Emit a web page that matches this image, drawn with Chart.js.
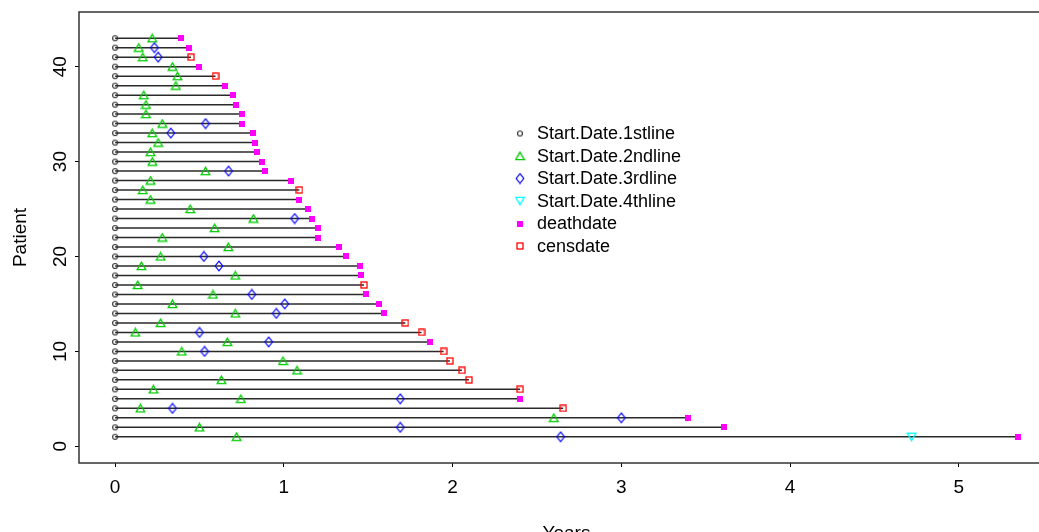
<!DOCTYPE html>
<html>
<head>
<meta charset="utf-8">
<script src="https://cdn.jsdelivr.net/npm/chart.js@4.4.1/dist/chart.umd.min.js"></script>
<style>
  html, body { margin: 0; padding: 0; background: #fff; overflow: hidden; }
  #wrap { width: 1060px; height: 532px; }
</style>
</head>
<body>
<div id="wrap"><canvas id="swim" width="1060" height="532"></canvas></div>
<script>
// patient 1..43 (index 0 = patient 1)
const patients = Array.from({ length: 43 }, (_, i) => i + 1);
const endTime = [5.35, 3.607, 3.394, 2.655, 2.40, 2.40, 2.097, 2.055, 1.984, 1.947,
                 1.865, 1.816, 1.72, 1.594, 1.565, 1.484, 1.475, 1.456, 1.45, 1.37,
                 1.325, 1.202, 1.202, 1.167, 1.143, 1.09, 1.092, 1.045, 0.886, 0.87,
                 0.838, 0.827, 0.82, 0.75, 0.75, 0.714, 0.70, 0.65, 0.595, 0.50,
                 0.45, 0.435, 0.39];
// D = deathdate, C = censdate
const endType = ['D','D','D','C','D','C','C','C','C','C',
                 'D','C','C','D','D','D','C','D','D','D',
                 'D','D','D','D','D','D','C','D','D','D',
                 'D','D','D','D','D','D','D','D','C','D',
                 'C','D','D'];
const start2nd = [0.72, 0.50, 2.60, 0.15, 0.745, 0.227, 0.63, 1.078, 0.995, 0.395,
                  0.665, 0.12, 0.27, 0.712, 0.34, 0.58, 0.134, 0.712, 0.156, 0.27,
                  0.671, 0.28, 0.59, 0.82, 0.445, 0.21, 0.164, 0.21, 0.536, 0.221,
                  0.21, 0.255, 0.22, 0.28, 0.183, 0.183, 0.17, 0.36, 0.37, 0.34,
                  0.164, 0.14, 0.22];
const start3rd = [2.64, 1.69, 3.00, 0.34, 1.69, null, null, null, null, 0.53,
                  0.91, 0.50, null, 0.955, 1.005, 0.81, null, null, 0.615, 0.526,
                  null, null, null, 1.064, null, null, null, null, 0.672, null,
                  null, null, 0.33, 0.536, null, null, null, null, null, null,
                  0.255, 0.233, null];
const start4th = [4.72];
const xTicks = [0, 1, 2, 3, 4, 5];
const yTicks = [0, 10, 20, 30, 40];
const legendLabels = ['Start.Date.1stline', 'Start.Date.2ndline', 'Start.Date.3rdline',
                      'Start.Date.4thline', 'deathdate', 'censdate'];

// little marker images (R-like pch symbols)
function marker(w, h, draw) {
    const c = document.createElement('canvas');
    c.width = w; c.height = h;
    const g = c.getContext('2d');
    draw(g, w, h);
    return c;
}
const mCircle = marker(8, 8, (g) => {
    g.strokeStyle = '#333'; g.lineWidth = 1.2;
    g.beginPath(); g.arc(4, 4, 2.5, 0, Math.PI * 2); g.stroke();
});
const mTriUp = marker(11, 10, (g) => {
    g.strokeStyle = '#00CD00'; g.lineWidth = 1.3;
    g.beginPath(); g.moveTo(5.5, 1.2); g.lineTo(1.2, 8.6); g.lineTo(9.8, 8.6); g.closePath(); g.stroke();
});
const mDiamond = marker(10, 12, (g) => {
    g.strokeStyle = '#0000FF'; g.lineWidth = 1.2;
    g.beginPath(); g.moveTo(5, 1.2); g.lineTo(8.8, 6); g.lineTo(5, 10.8); g.lineTo(1.2, 6); g.closePath(); g.stroke();
});
const mTriDown = marker(11, 10, (g) => {
    g.strokeStyle = '#00FFFF'; g.lineWidth = 1.3;
    g.beginPath(); g.moveTo(1.2, 1.4); g.lineTo(9.8, 1.4); g.lineTo(5.5, 8.8); g.closePath(); g.stroke();
});
const mFilled = marker(6, 6, (g) => {
    g.fillStyle = '#FF00FF'; g.fillRect(0, 0, 6, 6);
});
const mOpen = marker(8, 8, (g) => {
    g.strokeStyle = '#FF0000'; g.lineWidth = 1.3;
    g.strokeRect(1, 1, 6, 6);
});
const legendMarks = [mCircle, mTriUp, mDiamond, mTriDown, mFilled, mOpen];

function pts(values) {
    const out = [];
    values.forEach((v, i) => { if (v !== null && v !== undefined) out.push({ x: v, y: patients[i] }); });
    return out;
}
function markerSet(label, data, img) {
    return { label, data, showLine: false, pointStyle: img, pointRadius: 4, pointHoverRadius: 4,
             borderColor: 'transparent', backgroundColor: 'transparent', order: 0 };
}

const datasets = [
    markerSet('deathdate', pts(endTime.map((t, i) => endType[i] === 'D' ? t : null)), mFilled),
    markerSet('censdate', pts(endTime.map((t, i) => endType[i] === 'C' ? t : null)), mOpen),
    markerSet('Start.Date.4thline', pts(start4th), mTriDown),
    markerSet('Start.Date.3rdline', pts(start3rd), mDiamond),
    markerSet('Start.Date.2ndline', pts(start2nd), mTriUp),
    markerSet('Start.Date.1stline', pts(patients.map(() => 0)), mCircle)
];
patients.forEach((p, i) => {
    datasets.push({
        label: 'line' + p,
        data: [{ x: 0, y: p }, { x: endTime[i], y: p }],
        showLine: true, borderColor: '#2a2a2a', borderWidth: 1.5,
        pointRadius: 0, order: 1
    });
});

const boxAndLegend = {
    id: 'boxAndLegend',
    afterDraw(chart) {
        const { ctx, chartArea: a } = chart;
        ctx.save();
        ctx.strokeStyle = '#333';
        ctx.lineWidth = 1.5;
        ctx.strokeRect(a.left, a.top, a.right - a.left, a.bottom - a.top);
        ctx.font = '18px "Liberation Sans", Arial, sans-serif';
        ctx.fillStyle = '#000';
        ctx.textBaseline = 'middle';
        legendLabels.forEach((txt, i) => {
            const y = 133.5 + i * 22.5;
            const m = legendMarks[i];
            ctx.drawImage(m, 520 - m.width / 2, y - m.height / 2);
            ctx.fillText(txt, 537, y + 1);
        });
        ctx.restore();
    }
};

function noPad(s) {
    s.paddingTop = 0; s.paddingBottom = 0; s.paddingLeft = 0; s.paddingRight = 0;
}

const fam = '"Liberation Sans", Arial, sans-serif';
const tickFont = { family: fam, size: 19 };
new Chart(document.getElementById('swim'), {
    type: 'scatter',
    data: { datasets },
    options: {
        responsive: false,
        animation: false,
        events: [],
        layout: { padding: { top: 12, right: 6, left: 0, bottom: 0 } },
        plugins: { legend: { display: false }, tooltip: { enabled: false } },
        scales: {
            x: {
                type: 'linear', min: -0.214, max: 5.564,
                afterBuildTicks: (s) => { s.ticks = xTicks.map(v => ({ value: v })); },
                afterFit: (s) => { s.height = 69; noPad(s); },
                grid: { drawOnChartArea: false, drawTicks: true, tickLength: 4, color: '#000' },
                border: { display: false },
                ticks: { font: tickFont, color: '#000', padding: 9, maxRotation: 0 },
                title: { display: true, text: 'Years', color: '#000',
                         font: { family: fam, size: 19, lineHeight: 1 },
                         padding: { top: 0, bottom: -11 } }
            },
            y: {
                type: 'linear', min: -1.76, max: 45.76,
                afterBuildTicks: (s) => { s.ticks = yTicks.map(v => ({ value: v })); },
                afterFit: (s) => { s.width = 79; noPad(s); },
                grid: { drawOnChartArea: false, drawTicks: true, tickLength: 4, color: '#000' },
                border: { display: false },
                ticks: { font: tickFont, color: '#000', padding: 4, minRotation: 90, maxRotation: 90, crossAlign: 'center' },
                title: { display: true, text: 'Patient', color: '#000',
                         font: { family: fam, size: 19, lineHeight: 1 },
                         padding: { top: 11, bottom: 0 } }
            }
        }
    },
    plugins: [boxAndLegend]
});
</script>
</body>
</html>
